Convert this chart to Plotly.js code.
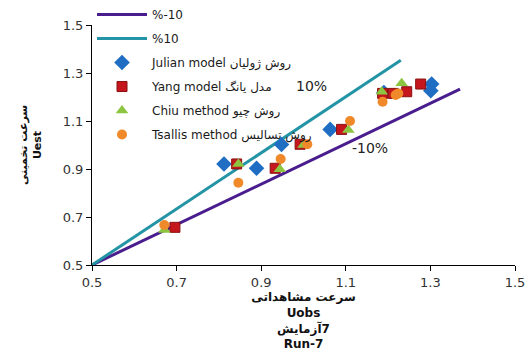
<!DOCTYPE html>
<html>
<head>
<meta charset="utf-8">
<script src="https://cdn.plot.ly/plotly-3.0.1.min.js"></script>
<style>
  html, body { margin: 0; padding: 0; background: #ffffff; }
  #chart { width: 527px; height: 354px; }
  /* the x-axis title block is Persian-first text, so lay it out right-to-left */
  #chart text.xtitle { direction: rtl; }
</style>
</head>
<body>
<div id="chart"></div>
<script>
// ±10% error bands (end points of each band line)
const minus10X = [0.5, 1.37];
const minus10Y = [0.5, 1.233];
const plus10X = [0.5, 1.23];
const plus10Y = [0.5, 1.353];

// Observed (Uobs) vs estimated (Uest) velocities, Run-7
const julianX = [0.812, 0.889, 0.948, 1.063, 1.190, 1.303, 1.301];
const julianY = [0.921, 0.903, 1.002, 1.065, 1.219, 1.254, 1.226];

const yangX = [0.696, 0.842, 0.933, 0.992, 1.090, 1.187, 1.212, 1.244, 1.277];
const yangY = [0.657, 0.921, 0.903, 1.003, 1.065, 1.215, 1.215, 1.222, 1.254];

const chiuX = [0.671, 0.846, 0.944, 1.000, 1.106, 1.185, 1.232];
const chiuY = [0.646, 0.921, 0.899, 1.000, 1.063, 1.222, 1.257];

const tsallisX = [0.671, 0.846, 0.946, 1.009, 1.110, 1.187, 1.224, 1.218];
const tsallisY = [0.667, 0.843, 0.942, 1.003, 1.100, 1.180, 1.215, 1.208];

const tickVals = [0.5, 0.7, 0.9, 1.1, 1.3, 1.5];
const tickText = ['0.5', '0.7', '0.9', '1.1', '1.3', '1.5'];

const seriesNames = [
  '%-10',
  '%10',
  'Julian model روش ژولیان',
  'Yang model مدل یانگ',
  'Chiu method روش چیو',
  'Tsallis method روش تسالیس'
];

const traces = [
  { x: minus10X, y: minus10Y, name: seriesNames[0], mode: 'lines', legendgroup: 'a',
    line: { color: '#4a1d8e', width: 3 } },
  { x: plus10X, y: plus10Y, name: seriesNames[1], mode: 'lines', legendgroup: 'b',
    line: { color: '#2394a6', width: 3 } },
  { x: julianX, y: julianY, name: seriesNames[2], mode: 'markers', legendgroup: 'c',
    marker: { symbol: 'diamond', size: 12, color: '#1f6ec4', line: { width: 0 } } },
  { x: yangX, y: yangY, name: seriesNames[3], mode: 'markers', legendgroup: 'd',
    marker: { symbol: 'square', size: 10, color: '#c4161c', line: { width: 1, color: '#8a1010' } } },
  { x: chiuX, y: chiuY, name: seriesNames[4], mode: 'markers', legendgroup: 'e',
    marker: { symbol: 'triangle-up', size: 11, color: '#8cc540', line: { width: 0 } } },
  { x: tsallisX, y: tsallisY, name: seriesNames[5], mode: 'markers', legendgroup: 'f',
    marker: { symbol: 'circle', size: 10, color: '#f0892a', line: { width: 0 } } }
];

const axisFont = { family: 'DejaVu Sans, Verdana, sans-serif', size: 13, color: '#333333' };

const layout = {
  width: 527,
  height: 354,
  margin: { l: 92, r: 12, t: 25, b: 89, autoexpand: false },
  paper_bgcolor: '#ffffff',
  plot_bgcolor: '#ffffff',
  showlegend: true,
  legend: {
    x: 0.0, xanchor: 'left', xref: 'paper',
    y: 1.104, yanchor: 'top', yref: 'paper',
    bgcolor: 'rgba(0,0,0,0)',
    font: { family: 'DejaVu Sans, Verdana, sans-serif', size: 12, color: '#1a1a1a' },
    tracegroupgap: 5,
    itemwidth: 50
  },
  xaxis: {
    range: [0.5, 1.5],
    tickvals: tickVals,
    ticktext: tickText,
    ticks: 'outside',
    ticklen: 5,
    tickcolor: '#000000',
    showline: true,
    linecolor: '#000000',
    linewidth: 1,
    showgrid: false,
    zeroline: false,
    tickfont: axisFont,
    title: {
      text: '<b>سرعت مشاهداتی</b><br><b>Uobs</b><br><b>7آزمایش</b><br><b>Run-7</b>',
      font: { family: 'DejaVu Sans, sans-serif', size: 12, color: '#111111' },
      standoff: 4
    }
  },
  yaxis: {
    range: [0.5, 1.5],
    tickvals: tickVals,
    ticktext: tickText,
    ticks: 'outside',
    ticklen: 5,
    tickcolor: '#000000',
    showline: true,
    linecolor: '#000000',
    linewidth: 1,
    showgrid: false,
    zeroline: false,
    tickfont: axisFont,
    title: {
      text: '<b>سرعت تخمینی</b><br><b>Uest</b>',
      font: { family: 'DejaVu Sans, sans-serif', size: 11, color: '#111111' },
      standoff: 18
    }
  },
  annotations: [
    { x: 1.018, y: 1.246, xref: 'x', yref: 'y', text: '10%', showarrow: false,
      font: { family: 'DejaVu Sans, Verdana, sans-serif', size: 14, color: '#222222' } },
    { x: 1.157, y: 0.988, xref: 'x', yref: 'y', text: '-10%', showarrow: false,
      font: { family: 'DejaVu Sans, Verdana, sans-serif', size: 14, color: '#222222' } }
  ]
};

Plotly.newPlot('chart', traces, layout, { displayModeBar: false, staticPlot: true });
</script>
</body>
</html>
